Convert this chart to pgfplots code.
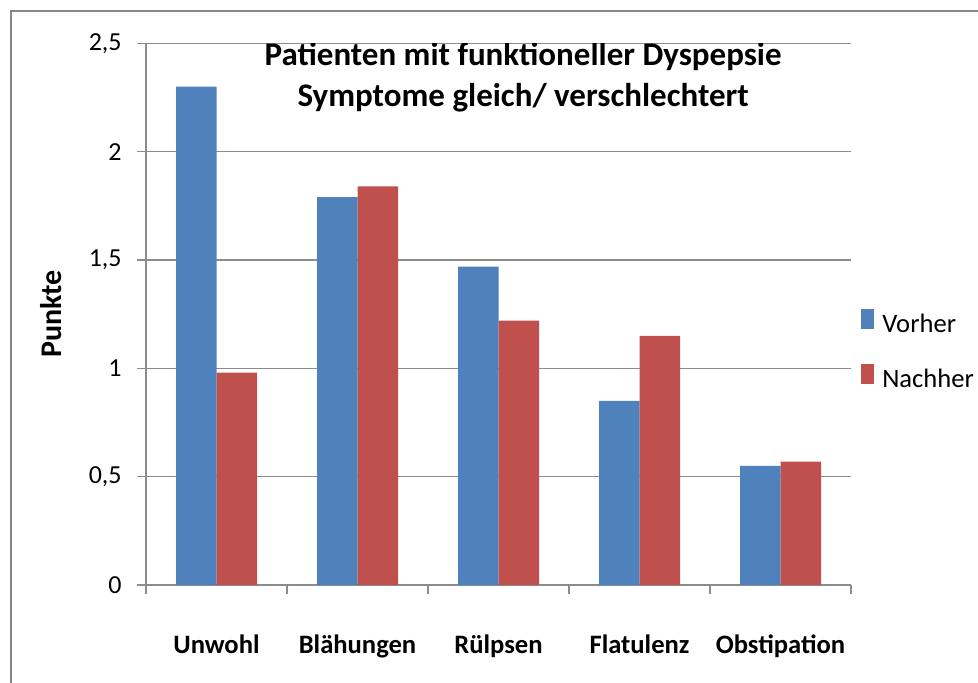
\documentclass[border=0pt]{standalone}
\usepackage{fontspec}
\setmainfont{Carlito}
\usepackage{pgfplots}
\pgfplotsset{compat=1.18}
\definecolor{vblue}{HTML}{4F81BD}
\definecolor{nred}{HTML}{C0504D}
\definecolor{gridgray}{RGB}{140,140,140}
\definecolor{framegray}{RGB}{136,136,136}
\begin{document}
\begin{tikzpicture}
\useasboundingbox (0pt,0pt) rectangle (489pt,341pt);
\draw[framegray, line width=1pt] (5.5pt,-10pt) -- (5.5pt,335.25pt) -- (500pt,335.25pt);
\begin{axis}[
  at={(73pt,48.5pt)}, anchor=south west,
  scale only axis, width=352.5pt, height=270.8pt,
  xmin=-0.5, xmax=4.5, ymin=0, ymax=2.5,
  ybar=0pt, bar width=20.25pt,
  axis x line*=bottom, axis y line*=left,
  axis line style={gridgray, line width=0.75pt},
  ymajorgrids, grid style={gridgray, line width=0.75pt},
  ytick={0,0.5,1,1.5,2,2.5},
  yticklabels={0,{0,5},1,{1,5},2,{2,5}},
  tick style={draw=gridgray, line width=0.75pt},
  xtick align=outside, ytick align=outside, major tick length=4.5pt,
  yticklabel style={anchor=east, inner sep=0pt, xshift=-7.5pt, font=\fontsize{13}{15}\selectfont},
  xtick={-0.5,0.5,1.5,2.5,3.5,4.5},
  xticklabels={},
  xticklabel style={anchor=base, yshift=-34pt, font=\bfseries\fontsize{13.3}{15}\selectfont},
  extra x ticks={0,1,2,3,4},
  extra x tick labels={Unwohl,Blähungen,Rülpsen,Flatulenz,Obstipation},
  extra x tick style={grid=none, major tick length=0pt},
  legend style={at={(rel axis cs:1.014,0.431)}, anchor=west, draw=none, fill=none,
    inner sep=0pt, font=\fontsize{13.3}{15}\selectfont, row sep=12pt,
    /tikz/every odd column/.append style={column sep=2pt}},
  legend cell align=left,
  legend image code/.code={\fill[#1] (0pt,-2pt) rectangle (6.5pt,8pt);},
]
\addplot[fill=vblue, draw=none] coordinates {(0,2.30) (1,1.79) (2,1.47) (3,0.85) (4,0.55)};
\addplot[fill=nred, draw=none] coordinates {(0,0.98) (1,1.84) (2,1.22) (3,1.15) (4,0.57)};
\legend{Vorher,Nachher}
\node[anchor=base, font=\bfseries\fontsize{16.5}{20}\selectfont] at (rel axis cs:0.535,0.9595) {Patienten mit funktioneller Dyspepsie};
\node[anchor=base, font=\bfseries\fontsize{16.5}{20}\selectfont] at (rel axis cs:0.535,0.884) {Symptome gleich/ verschlechtert};
\end{axis}
\node[rotate=90, anchor=base, font=\bfseries\fontsize{15}{17}\selectfont] at (30.8pt,184pt) {Punkte};
\end{tikzpicture}
\end{document}
